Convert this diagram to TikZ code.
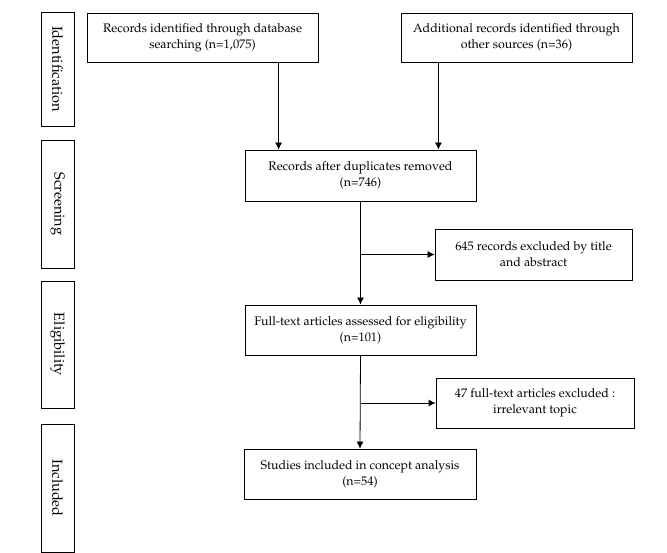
\documentclass[tikz,border=0pt]{standalone}
\usepackage[T1]{fontenc}
\usepackage{mathpazo}
\usetikzlibrary{arrows.meta,calc}
\tikzset{
  box/.style={draw,line width=0.8pt,align=center,inner sep=1pt,font=\fontsize{12.4}{16}\selectfont},
  side/.style={draw,line width=0.8pt,minimum width=33pt,inner sep=0pt,font=\fontsize{14.5}{16}\selectfont},
  arr/.style={line width=0.8pt,-{Latex[length=7pt,width=7pt]}}
}
\begin{document}
\begin{tikzpicture}[x=1pt,y=-1pt]
\useasboundingbox (0,0) rectangle (667,553);
% stage boxes
\node[side,minimum height=114pt] (ident) at (57.5,69) {\rotatebox{-90}{Identification}};
\node[side,minimum height=128pt] (screen) at (57.5,204) {\rotatebox{-90}{Screening}};
\node[side,minimum height=127pt] (elig) at (57.5,344.5) {\rotatebox{-90}{Eligibility}};
\node[side,minimum height=128pt] (incl) at (57.5,488) {\rotatebox{-90}{Included}};
% flow boxes
\node[box,minimum width=231pt,minimum height=49pt] (b1) at (202.5,37.5) {Records identified through database\\searching (n=1,075)};
\node[box,minimum width=231pt,minimum height=49pt] (b2) at (516.5,37.5) {Additional records identified through\\other sources (n=36)};
\node[box,minimum width=231pt,minimum height=51pt] (b3) at (360.5,175.5) {Records after duplicates removed\\(n=746)};
\node[box,minimum width=197pt,minimum height=51pt] (b4) at (533.5,254.5) {645 records excluded by title\\and abstract};
\node[box,minimum width=231pt,minimum height=50pt] (b5) at (360.5,330) {Full-text articles assessed for eligibility\\(n=101)};
\node[box,minimum width=198pt,minimum height=50pt] (b6) at (535,403) {47 full-text articles excluded :\\irrelevant topic};
\node[box,minimum width=232pt,minimum height=50pt] (b7) at (360,474) {Studies included in concept analysis\\(n=54)};
% connectors
\coordinate (c1) at ($(b3.north west)+(34,0)$);
\coordinate (c2) at ($(b3.north east)+(-38,0)$);
\draw[arr] (c1 |- b1.south) -- (c1);
\draw[arr] (c2 |- b2.south) -- (c2);
\draw[arr] (b3.south) -- (b5.north);
\draw[arr] (b3.south |- b4.west) -- (b4.west);
\draw[arr] (b5.south) -- (b7.north);
\draw[arr] (b5.south |- b6.west) -- (b6.west);
\end{tikzpicture}
\end{document}
